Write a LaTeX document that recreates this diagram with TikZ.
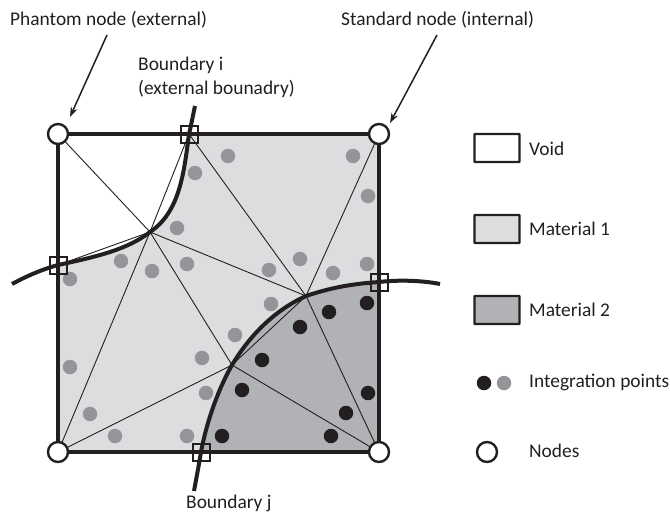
\documentclass[tikz,border=0pt]{standalone}
\usepackage{fontspec}
\setmainfont{Carlito}
\usetikzlibrary{arrows.meta}
\definecolor{matone}{HTML}{DCDDDF}
\definecolor{mattwo}{HTML}{B1B2B5}
\definecolor{dotgray}{HTML}{939598}
\definecolor{ink}{HTML}{231F20}
\tikzset{
  mesh/.style={draw=ink,line width=0.9pt},
  edge/.style={draw=ink,line width=3.6pt},
  bound/.style={draw=ink,line width=4pt},
  pointer/.style={draw=ink,line width=1.5pt,-{Stealth[length=10pt,width=7pt]}},
  corner/.style={circle,draw=ink,fill=white,line width=2.4pt,minimum size=20pt,inner sep=0pt},
  cross/.style={rectangle,draw=ink,line width=2pt,minimum size=17pt,inner sep=0pt},
  gp/.style={circle,fill=dotgray,minimum size=14.5pt,inner sep=0pt},
  bp/.style={circle,fill=ink,minimum size=14.5pt,inner sep=0pt},
  swatch/.style={rectangle,draw=ink,line width=2.4pt,minimum width=45pt,minimum height=28pt,inner sep=0pt,rounded corners=0.5pt},
  lab/.style={anchor=west,inner sep=0pt,font=\fontsize{19.4}{22}\selectfont,text=ink},
}
\begin{document}
\begin{tikzpicture}[x=1pt,y=-1pt]
\useasboundingbox (0,0) rectangle (670,512);
% positions
\coordinate (TL) at (58,134);
\coordinate (TR) at (379,134);
\coordinate (BL) at (58,452);
\coordinate (BR) at (379,452);
\coordinate (CT) at (189,134);
\coordinate (CL) at (58,265);
\coordinate (CR) at (379,282);
\coordinate (CB) at (201,452);
\coordinate (A) at (150,232);
\coordinate (B) at (232,365);
\coordinate (C) at (306,296);
% regions
\fill[matone] (TL) rectangle (BR);
\fill[white] (TL) -- (CT) .. controls (184,172) and (180,212) .. (A) .. controls (128,249) and (100,256) .. (CL) -- cycle;
\fill[mattwo] (CR) .. controls (350,284) and (330,288) .. (C) .. controls (275,310) and (250,335) .. (B) .. controls (215,395) and (205,430) .. (CB) -- (BR) -- cycle;
% mesh
\draw[mesh] (TL) -- (A);
\draw[mesh] (A) -- (CL);
\draw[mesh] (A) -- (CT);
\draw[mesh] (CT) -- (C);
\draw[mesh] (A) -- (C);
\draw[mesh] (A) -- (B);
\draw[mesh] (A) -- (BL);
\draw[mesh] (BL) -- (B);
\draw[mesh] (B) -- (BR);
\draw[mesh] (B) -- (C);
\draw[mesh] (C) -- (BR);
\draw[mesh] (C) -- (TR);
% outer edge
\draw[edge] (TL) -- (TR) -- (BR) -- (BL) -- cycle;
% integration points
\foreach \i/\x/\y in {1/228/156,2/195/173,3/177/228,4/121/261,5/152/271,6/187/264,7/70/279,8/353/156,9/368/196,10/300/259,11/269/270,12/333/273,13/367/264,14/271/304,15/235/335,16/202/358,17/206/393,18/187/436,19/70/367,20/90/414,21/115/436}
  \node[gp] (g\i) at (\x,\y) {};
\foreach \i/\x/\y in {1/367/303,2/329/312,3/300/327,4/262/360,5/242/390,6/222/436,7/331/436,8/346/413,9/368/393}
  \node[bp] (k\i) at (\x,\y) {};
% boundaries
\coordinate (Ia) at (195,106);
\coordinate (Ib) at (12,284);
\coordinate (Ja) at (440,284);
\coordinate (Jb) at (194,491);
\draw[bound] (Ia) .. controls (192,120) and (191,126) .. (CT) .. controls (184,172) and (180,212) .. (A) .. controls (128,249) and (100,256) .. (CL) .. controls (40,270) and (25,277) .. (Ib);
\draw[bound] (Ja) .. controls (420,280) and (395,280) .. (CR) .. controls (350,284) and (330,288) .. (C) .. controls (275,310) and (250,335) .. (B) .. controls (215,395) and (205,430) .. (CB) .. controls (198,470) and (196,480) .. (Jb);
% crossing markers
\node[cross] (xT) at (CT) {};
\node[cross] (xL) at (CL) {};
\node[cross] (xR) at (CR) {};
\node[cross] (xB) at (CB) {};
% corner nodes
\node[corner] (nTL) at (TL) {};
\node[corner] (nTR) at (TR) {};
\node[corner] (nBL) at (BL) {};
\node[corner] (nBR) at (BR) {};
% labels
\node[lab] (phantom) at (10,20) {Phantom node (external)};
\node[lab] (standard) at (341,20) {Standard node (internal)};
\node[lab] (bi) at (138,65) {Boundary i};
\node[lab] (bie) at (138,89) {(external bounadry)};
\node[lab] (bj) at (186,503) {Boundary j};
% pointers
\coordinate (pa) at (107,35);
\coordinate (pb) at (70,117);
\coordinate (qa) at (437,35);
\coordinate (qb) at (390,123);
\draw[pointer] (pa) -- (pb);
\draw[pointer] (qa) -- (qb);
% legend
\node[swatch,fill=white] (sv) at (497,148) {};
\node[swatch,fill=matone] (s1) at (497,229) {};
\node[swatch,fill=mattwo] (s2) at (497,310) {};
\node[bp] (lk) at (484,383) {};
\node[gp] (lg) at (504,383) {};
\node[corner] (ln) at (487,452) {};
\node[lab] (tv) at (529,149) {Void};
\node[lab] (t1) at (529,229) {Material 1};
\node[lab] (t2) at (529,310) {Material 2};
\node[lab] (ti) at (529,382) {Integration points};
\node[lab] (tn) at (529,451) {Nodes};
\end{tikzpicture}
\end{document}
